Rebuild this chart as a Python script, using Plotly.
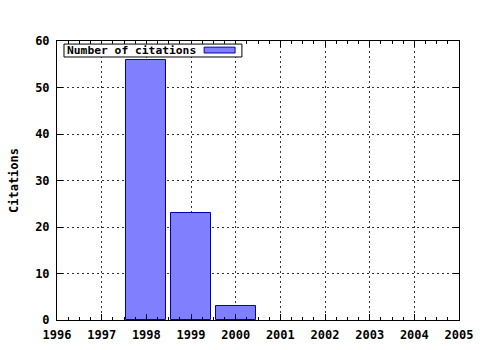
import plotly.graph_objects as go

years = [1998, 1999, 2000]
citations = [56, 23, 3]
x_ticks = list(range(1996, 2006))
y_ticks = [0, 10, 20, 30, 40, 50, 60]
series_name = "Number of citations"
y_title = "Citations"

FAM = "DejaVu Sans Mono"
font = dict(family=FAM, size=12, color="black")
leg_font = dict(family=FAM, size=11.3, color="black")
BAR_FILL = "#8080ff"
BAR_LINE = "#0000b0"

fig = go.Figure()
fig.add_trace(go.Bar(
    x=years, y=citations, name=series_name, width=0.9, showlegend=False,
    marker=dict(color=BAR_FILL, line=dict(color=BAR_LINE, width=1)),
))

axis_common = dict(
    showline=True, linecolor="black", linewidth=1, mirror="ticks",
    ticks="inside", ticklen=6, tickcolor="black",
    showgrid=True, gridcolor="#333333", griddash="2px,3px", gridwidth=1,
    zeroline=False, tickfont=font, automargin=False, layer="above traces",
)

fig.update_xaxes(
    range=[1996, 2005], tickvals=x_ticks, ticktext=[f"<b>{v}</b>" for v in x_ticks],
    minor=dict(ticks="inside", ticklen=3, dtick=0.25, tick0=1996, tickcolor="black", showgrid=False),
    ticklabelstandoff=4,
    **axis_common,
)
fig.update_yaxes(
    range=[0, 60], tickvals=y_ticks, ticktext=[f"<b>{v}</b>" for v in y_ticks],
    title=dict(text=f"<b>{y_title}</b>", font=font, standoff=13),
    ticklabelstandoff=4,
    **axis_common,
)

# Custom legend (text first, sample box after), gnuplot style
fig.add_shape(type="rect", xref="x domain", yref="y domain",
              x0=0.0174, x1=0.460, y0=0.9427, y1=0.989,
              line=dict(color="black", width=1), fillcolor="white", layer="above")
fig.add_shape(type="rect", xref="x domain", yref="y domain",
              x0=0.366, x1=0.443, y0=0.957, y1=0.978,
              line=dict(color=BAR_LINE, width=1), fillcolor=BAR_FILL, layer="above")
fig.add_annotation(xref="x domain", yref="y domain", x=0.019, y=0.966,
                   xanchor="left", yanchor="middle", showarrow=False,
                   text=f"<b>{series_name}</b>", font=leg_font)

fig.update_layout(
    width=480, height=350,
    margin=dict(l=57, r=21, t=41, b=30),
    paper_bgcolor="white", plot_bgcolor="white",
    font=font,
    showlegend=False,
    bargap=0,
)

fig.write_html("out.html")
